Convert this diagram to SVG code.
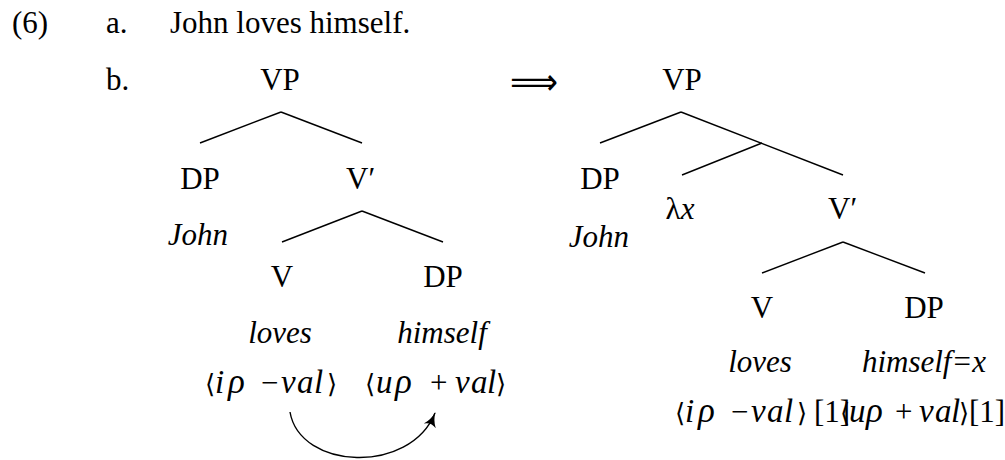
<svg xmlns="http://www.w3.org/2000/svg" width="1005" height="460" viewBox="0 0 1005 460">
<style>
text{font-family:"Liberation Serif","Times New Roman",serif;font-size:31px;fill:#000}
.c{text-anchor:middle}
.i{font-style:italic}
.m{font-style:italic;font-size:33px}
.r{font-style:italic;font-size:35px}
.br{font-family:"DejaVu Serif","Liberation Serif",serif;font-size:26px;font-style:normal}
.e line,.e path{stroke:#000;stroke-width:1.4;fill:none}
</style>
<defs>
<marker id="ah" viewBox="0 0 14 14" refX="13" refY="7" markerWidth="15" markerHeight="15" markerUnits="userSpaceOnUse" orient="auto">
<path d="M0,1 Q6,6 14,7 Q6,8 0,13 Q4,7 0,1 Z" fill="#000"/>
</marker>
</defs>
<g id="header">
<text x="12" y="33">(6)</text>
<text x="106" y="33">a.</text>
<text x="170" y="33">John loves himself.</text>
<text x="106" y="90">b.</text>
<text x="510" y="94" textLength="48" lengthAdjust="spacingAndGlyphs" style="font-family:'DejaVu Sans',sans-serif;font-size:36px">⟹</text>
</g>
<g class="e" id="connectors">
<line x1="281" y1="112" x2="200" y2="143"/>
<line x1="281" y1="112" x2="362" y2="143"/>
<line x1="362" y1="211" x2="282" y2="242"/>
<line x1="362" y1="211" x2="443" y2="242"/>
<path d="M290,412 C300,470 410,475 435,413" marker-end="url(#ah)"/>
<line x1="681" y1="112" x2="600" y2="143"/>
<line x1="681" y1="112" x2="843" y2="175"/>
<line x1="762" y1="143" x2="682" y2="175"/>
<line x1="843" y1="242" x2="762" y2="273"/>
<line x1="843" y1="242" x2="925" y2="273"/>
</g>
<g id="left-VP"><text class="c" x="280" y="90">VP</text></g>
<g id="left-DP"><text class="c" x="200" y="189">DP</text><text class="c i" x="198" y="245">John</text></g>
<g id="left-Vbar"><text x="346" y="189">V′</text></g>
<g id="left-V"><text class="c" x="282" y="287">V</text><text class="c i" x="280" y="343">loves</text>
<text y="393"><tspan class="br" x="205">⟨</tspan><tspan class="m" x="215">i</tspan><tspan class="r" x="228">ρ</tspan><tspan x="261">−</tspan><tspan class="m" x="281">v</tspan><tspan class="m" x="297">a</tspan><tspan class="m" x="314">l</tspan><tspan class="br" x="327">⟩</tspan></text></g>
<g id="left-DP2"><text class="c" x="443" y="287">DP</text><text class="c i" x="442" y="343">himself</text>
<text y="393"><tspan class="br" x="365">⟨</tspan><tspan class="m" x="376">u</tspan><tspan class="r" x="395">ρ</tspan><tspan x="430">+</tspan><tspan class="m" x="455">v</tspan><tspan class="m" x="471">a</tspan><tspan class="m" x="487">l</tspan><tspan class="br" x="496">⟩</tspan></text></g>
<g id="right-VP"><text class="c" x="682" y="90">VP</text></g>
<g id="right-DP"><text class="c" x="600" y="189">DP</text><text class="c i" x="599" y="247">John</text></g>
<g id="right-lambda"><text class="c" x="680" y="219">λ<tspan class="i">x</tspan></text></g>
<g id="right-Vbar"><text x="828" y="219">V′</text></g>
<g id="right-V"><text class="c" x="762" y="318">V</text><text class="c i" x="760" y="372">loves</text>
<text y="422"><tspan class="br" x="675">⟨</tspan><tspan class="m" x="685">i</tspan><tspan class="r" x="698">ρ</tspan><tspan x="731">−</tspan><tspan class="m" x="751">v</tspan><tspan class="m" x="767">a</tspan><tspan class="m" x="784">l</tspan><tspan class="br" x="797">⟩</tspan><tspan x="814">[1]</tspan></text></g>
<g id="right-DP2"><text class="c" x="924" y="318">DP</text><text class="c i" x="924" y="372">himself=x</text>
<text y="422"><tspan class="br" x="840">⟨</tspan><tspan class="m" x="849">u</tspan><tspan class="r" x="866">ρ</tspan><tspan x="895">+</tspan><tspan class="m" x="919">v</tspan><tspan class="m" x="935">a</tspan><tspan class="m" x="951">l</tspan><tspan class="br" x="959">⟩</tspan><tspan x="969">[1]</tspan></text></g>
</svg>
